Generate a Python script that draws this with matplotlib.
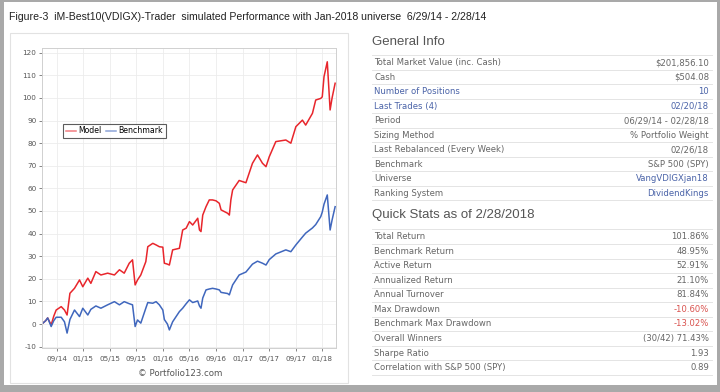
import numpy as np
import matplotlib.pyplot as plt
import matplotlib.dates as mdates
from matplotlib.patches import Rectangle
from matplotlib.lines import Line2D


# ============================================================
# Data
# ============================================================

dates = [
    "2014-06-29", "2014-07-12", "2014-07-21", "2014-08-06", "2014-08-18", "2014-08-29",
    "2014-09-21", "2014-10-06", "2014-10-18", "2014-10-31", "2014-11-21", "2014-12-14",
    "2014-12-29", "2015-01-21", "2015-02-04", "2015-02-27", "2015-03-22", "2015-04-22",
    "2015-05-23", "2015-06-15", "2015-07-07", "2015-07-30", "2015-08-14", "2015-08-26",
    "2015-09-06", "2015-09-21", "2015-10-14", "2015-10-23", "2015-11-15", "2015-11-30",
    "2015-12-15", "2015-12-31", "2016-01-07", "2016-01-21", "2016-01-30", "2016-02-14",
    "2016-03-16", "2016-03-31", "2016-04-16", "2016-05-01", "2016-05-16", "2016-06-08",
    "2016-06-16", "2016-06-23", "2016-07-01", "2016-07-16", "2016-07-31", "2016-08-15",
    "2016-08-31", "2016-09-15", "2016-09-23", "2016-10-23", "2016-10-31", "2016-11-07",
    "2016-11-15", "2016-12-15", "2017-01-15", "2017-02-14", "2017-03-09", "2017-04-01",
    "2017-04-17", "2017-05-02", "2017-06-01", "2017-07-17", "2017-08-09", "2017-09-01",
    "2017-10-01", "2017-10-16", "2017-11-16", "2017-12-01", "2017-12-24", "2017-12-31",
    "2018-01-08", "2018-01-23", "2018-02-05", "2018-02-14", "2018-02-28",
]

model = [
    0.4, 1.5, 2.7, -0.4, 3.5, 6.2,
    7.7, 6.2, 4.0, 13.6, 15.8, 19.5,
    16.5, 20.3, 18.0, 23.2, 21.7, 22.5,
    21.7, 24.0, 22.5, 26.9, 28.4, 17.3,
    19.5, 21.7, 27.6, 34.2, 35.7, 35.0,
    34.2, 34.0, 26.9, 26.5, 26.1, 32.8,
    33.5, 41.6, 42.4, 45.3, 43.8, 46.8,
    41.6, 40.9, 48.2, 51.9, 54.9, 54.9,
    54.5, 53.4, 50.5, 49.0, 48.2, 54.9,
    59.3, 63.5, 62.5, 71.1, 74.8, 71.1,
    69.6, 74.0, 80.7, 81.4, 80.0, 87.3,
    90.2, 88.0, 93.2, 99.1, 99.8, 100.5,
    109.4, 116.0, 94.7, 100.0, 106.5,
]

benchmark = [
    0.4, 1.5, 2.7, -1.1, 1.5, 3.0,
    3.0, 1.0, -4.0, 2.0, 6.2, 3.3,
    7.0, 4.0, 6.5, 8.0, 7.0, 8.5,
    9.9, 8.5, 9.9, 9.0, 8.5, -1.1,
    1.8, 0.4, 7.0, 9.5, 9.2, 9.9,
    8.5, 6.2, 2.0, 0.0, -2.6, 1.0,
    5.5, 7.0, 9.0, 10.7, 9.5, 10.2,
    8.0, 7.0, 11.5, 15.1, 15.5, 15.8,
    15.5, 15.1, 14.0, 13.5, 12.9, 15.0,
    17.3, 21.7, 23.0, 26.5, 27.8, 26.9,
    26.1, 28.5, 31.0, 32.8, 32.0, 35.0,
    38.5, 40.2, 42.5, 44.0, 47.5, 49.5,
    53.0, 57.1, 41.6, 46.0, 51.9,
]

xtick_dates = [
    "2014-09-01", "2015-01-01", "2015-05-01", "2015-09-01", "2016-01-01", "2016-05-01",
    "2016-09-01", "2017-01-01", "2017-05-01", "2017-09-01", "2018-01-01",
]
ytick_values = [-10, 0, 10, 20, 30, 40, 50, 60, 70, 80, 90, 100, 110, 120]

title_text = "Figure-3  iM-Best10(VDIGX)-Trader  simulated Performance with Jan-2018 universe  6/29/14 - 2/28/14"

general_labels = [
    "Total Market Value (inc. Cash)", "Cash", "Number of Positions", "Last Trades (4)",
    "Period", "Sizing Method", "Last Rebalanced (Every Week)", "Benchmark", "Universe",
    "Ranking System",
]
general_values = [
    "$201,856.10", "$504.08", "10", "02/20/18", "06/29/14 - 02/28/18",
    "% Portfolio Weight", "02/26/18", "S&P 500 (SPY)", "VangVDIGXjan18", "DividendKings",
]
general_link_labels = ["Number of Positions", "Last Trades (4)"]
general_link_values = ["10", "02/20/18", "VangVDIGXjan18", "DividendKings"]

stats_labels = [
    "Total Return", "Benchmark Return", "Active Return", "Annualized Return",
    "Annual Turnover", "Max Drawdown", "Benchmark Max Drawdown", "Overall Winners",
    "Sharpe Ratio", "Correlation with S&P 500 (SPY)",
]
stats_values = [
    "101.86%", "48.95%", "52.91%", "21.10%", "81.84%", "-10.60%", "-13.02%",
    "(30/42) 71.43%", "1.93", "0.89",
]
stats_red_values = ["-10.60%", "-13.02%"]


# ============================================================
# Figure
# ============================================================

plt.rcParams["axes.unicode_minus"] = False

W, H = 720, 392
fig = plt.figure(figsize=(W / 100, H / 100), dpi=100)
fig.patch.set_facecolor("white")


def fx(x):
    return x / W


def fy(y):
    return 1 - y / H


red = "#e8262c"
blue = "#4067bd"
grey_txt = "#666666"
link = "#4a63a8"
warn = "#d9534f"
sep = "#e4e4e4"

# outer screenshot frame
frame = "#a9a9a9"
for (x0, y0, w, h) in [(0, 0, 4, H), (0, 385, W, 7), (0, 0, W, 2), (717, 0, 3, H)]:
    fig.add_artist(Rectangle((fx(x0), fy(y0 + h)), w / W, h / H, transform=fig.transFigure,
                             facecolor=frame, edgecolor="none", zorder=0))

fig.text(fx(9), fy(17), title_text, ha="left", va="center", fontsize=7.6,
         family="Liberation Sans", color="#222222")

# left panel box
fig.add_artist(Rectangle((fx(10), fy(383)), 338 / W, 350 / H, transform=fig.transFigure,
                         facecolor="none", edgecolor="#e2e2e2", linewidth=0.8))

# ============================================================
# Performance chart
# ============================================================

ax = fig.add_axes([fx(42), fy(348), (336 - 42) / W, (348 - 48) / H])
d = np.array(dates, dtype="datetime64[D]")
ax.plot(d, model, color=red, linewidth=1.1, label="Model")
ax.plot(d, benchmark, color=blue, linewidth=1.1, label="Benchmark")

ax.set_xlim(np.datetime64("2014-06-25"), np.datetime64("2018-03-04"))
ax.set_ylim(-10.6, 122.1)
ax.set_xticks(np.array(xtick_dates, dtype="datetime64[D]"))
ax.xaxis.set_major_formatter(mdates.DateFormatter("%m/%y"))
ax.set_yticks(ytick_values)
ax.tick_params(axis="both", labelsize=5.2, colors="#555555", length=2, width=0.5, pad=2)
ax.tick_params(axis="x", pad=4)
ax.grid(True, color="#ececec", linewidth=0.6)
for s in ax.spines.values():
    s.set_color("#d0d0d0")
    s.set_linewidth(0.7)

leg = ax.legend(loc="upper left", bbox_to_anchor=(0.072, 0.748), ncol=2, fontsize=5.6,
                frameon=True, fancybox=False, handlelength=1.3, handletextpad=0.3,
                columnspacing=0.6, borderpad=0.35, borderaxespad=0)
leg.get_frame().set_edgecolor("#333333")
leg.get_frame().set_linewidth(0.8)
for line in leg.get_lines():
    line.set_alpha(0.6)

fig.text(fx(180), fy(374), "\u00a9 Portfolio123.com", ha="center", va="center", fontsize=6.2,
         color="#555555")

# ============================================================
# Right-hand tables
# ============================================================

tab_font = dict(fontsize=6.1, family="DejaVu Sans")
head_font = dict(fontsize=9.5, family="Liberation Sans", color="#555555")
x_left, x_right = 372, 712


def draw_table(y0, step, labels, values, link_labels, link_values, red_values):
    fig.add_artist(Line2D([fx(x_left), fx(x_right)], [fy(y0 - step / 2)] * 2,
                          transform=fig.transFigure, color=sep, linewidth=0.7))
    for i, (lab, val) in enumerate(zip(labels, values)):
        y = y0 + i * step
        lc = link if lab in link_labels else grey_txt
        vc = link if val in link_values else (warn if val in red_values else grey_txt)
        fig.text(fx(x_left + 2), fy(y), lab, ha="left", va="center", color=lc, **tab_font)
        fig.text(fx(x_right - 3), fy(y), val, ha="right", va="center", color=vc, **tab_font)
        fig.add_artist(Line2D([fx(x_left), fx(x_right)], [fy(y + step / 2)] * 2,
                              transform=fig.transFigure, color=sep, linewidth=0.7))


fig.text(fx(372), fy(42), "General Info", ha="left", va="center", **head_font)
draw_table(62.7, 14.5, general_labels, general_values, general_link_labels,
           general_link_values, [])

fig.text(fx(372), fy(215), "Quick Stats as of 2/28/2018", ha="left", va="center", **head_font)
draw_table(236.7, 14.55, stats_labels, stats_values, [], [], stats_red_values)

fig.savefig("out.png", dpi=100)
